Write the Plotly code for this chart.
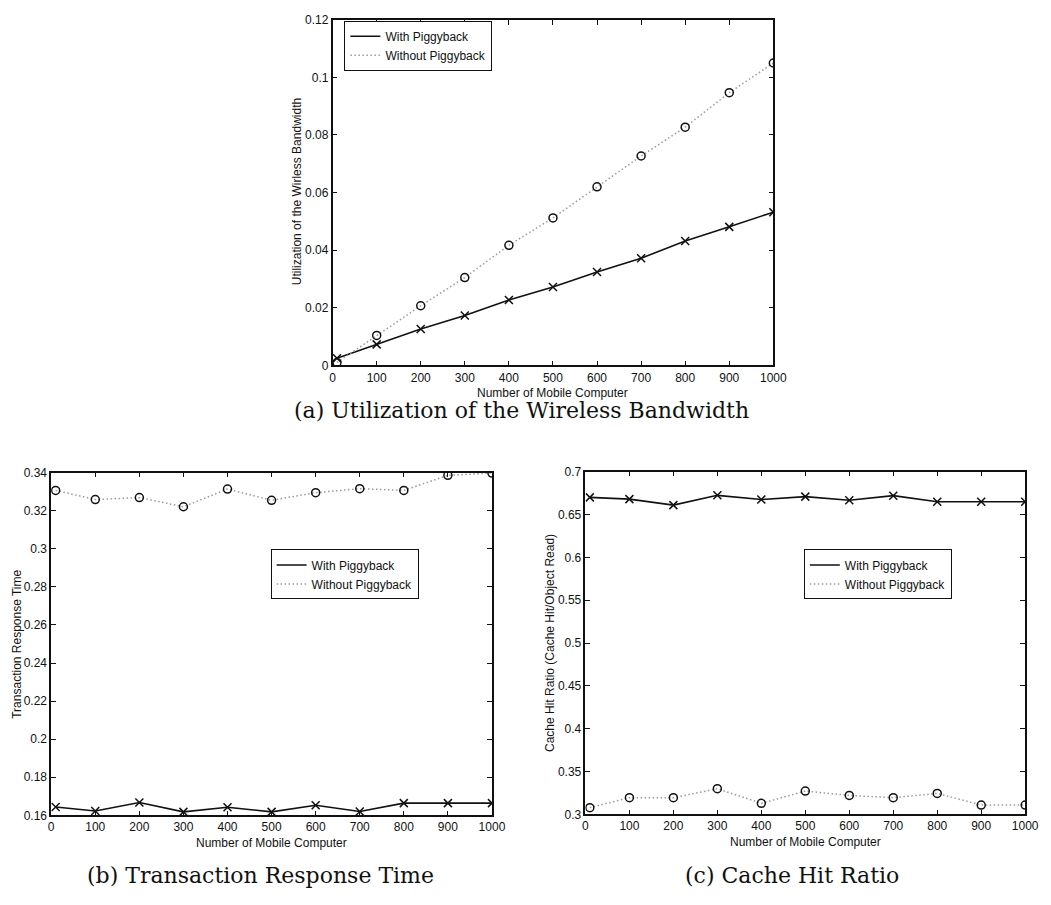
import plotly.graph_objects as go

W, H = 1051, 905

# Shared x values: number of mobile computers
mobile_counts = [10, 100, 200, 300, 400, 500, 600, 700, 800, 900, 1000]
x_ticks = [0, 100, 200, 300, 400, 500, 600, 700, 800, 900, 1000]

# (a) Utilization of the wireless bandwidth
bw_with = [0.0025, 0.0073, 0.0126, 0.0173, 0.0227, 0.0272, 0.0324, 0.0372, 0.0432, 0.0481, 0.0532]
bw_without = [0.001, 0.0104, 0.0207, 0.0305, 0.0417, 0.0512, 0.062, 0.0727, 0.0827, 0.0947, 0.105]

# (b) Transaction response time
rt_with = [0.1644, 0.1623, 0.1667, 0.1618, 0.1642, 0.1618, 0.1653, 0.162, 0.1664, 0.1664, 0.1664]
rt_without = [0.3307, 0.3259, 0.3269, 0.3221, 0.3314, 0.3255, 0.3295, 0.3316, 0.3307, 0.3386, 0.3398]

# (c) Cache hit ratio
hit_with = [0.670, 0.668, 0.661, 0.6724, 0.6675, 0.6709, 0.6667, 0.672, 0.665, 0.665, 0.665]
hit_without = [0.3078, 0.3194, 0.3194, 0.3299, 0.3128, 0.3271, 0.3221, 0.3194, 0.3244, 0.3108, 0.3108]

SANS = "Liberation Sans, Arial, sans-serif"
SERIF = "DejaVu Serif, serif"
INK = "#111111"
DOT = "#9a9a9a"


def px_x(p):
    return p / W


def px_y(p):
    return 1 - p / H


# Plot-area boxes in pixels: (left, top, right, bottom)
panels = {
    "a": dict(box=(335, 13, 783, 364), yr=[0, 0.12], dt=0.02,
              data=(bw_with, bw_without), legend="legend",
              lbox=(347, 14)),
    "b": dict(box=(49, 473, 497, 821), yr=[0.16, 0.34], dt=0.02,
              data=(rt_with, rt_without), legend="legend2",
              lbox=(272, 551)),
    "c": dict(box=(592, 472, 1039, 820), yr=[0.3, 0.7], dt=0.05,
              data=(hit_with, hit_without), legend="legend3",
              lbox=(814, 551)),
}

fig = go.Figure()
layout = dict(
    width=W, height=H,
    margin=dict(l=0, r=0, t=0, b=0),
    paper_bgcolor="white", plot_bgcolor="white",
    font=dict(family=SANS, size=12, color=INK),
    showlegend=True,
)

axis_common = dict(
    showline=True, linecolor=INK, linewidth=1.5, mirror="ticks",
    ticks="inside", ticklen=5, tickwidth=1, tickcolor=INK,
    showgrid=False, zeroline=False,
    tickfont=dict(family=SANS, size=12, color=INK),
)

annotations = []
for i, (key, p) in enumerate(panels.items()):
    n = "" if i == 0 else str(i + 1)
    xa, ya = "x" + n, "y" + n
    l, t, r, b = p["box"]
    layout["xaxis" + n] = dict(axis_common, domain=[px_x(l), px_x(r)], range=[0, 1000],
                               tickvals=x_ticks, anchor=ya)
    layout["yaxis" + n] = dict(axis_common, domain=[px_y(b), px_y(t)], range=p["yr"],
                               dtick=p["dt"], tick0=0, anchor=xa)
    lx, ly = p["lbox"]
    layout[p["legend"]] = dict(
        x=px_x(lx), y=px_y(ly), xanchor="left", yanchor="top",
        xref="paper", yref="paper",
        bgcolor="white", bordercolor=INK, borderwidth=1,
        font=dict(family=SANS, size=12, color=INK),
        tracegroupgap=0, itemwidth=30,
    )
    with_vals, without_vals = p["data"]
    # Solid line with x markers
    fig.add_trace(go.Scatter(x=mobile_counts, y=with_vals, mode="lines",
                             line=dict(color=INK, width=1.6), name="With Piggyback",
                             xaxis=xa, yaxis=ya, legend=p["legend"]))
    # Fine dotted gray line with open circles
    fig.add_trace(go.Scatter(x=mobile_counts, y=without_vals, mode="lines",
                             line=dict(color=DOT, width=1.5, dash="1.5px,2.5px"),
                             name="Without Piggyback",
                             xaxis=xa, yaxis=ya, legend=p["legend"]))
    fig.add_trace(go.Scatter(x=mobile_counts, y=with_vals, mode="markers",
                             marker=dict(symbol="x-thin-open", size=8, color=INK,
                                         line=dict(color=INK, width=1.5)),
                             showlegend=False, xaxis=xa, yaxis=ya))
    fig.add_trace(go.Scatter(x=mobile_counts, y=without_vals, mode="markers",
                             marker=dict(symbol="circle-open", size=8, color=INK,
                                         line=dict(color=INK, width=1.5)),
                             showlegend=False, xaxis=xa, yaxis=ya))
    # x-axis title
    annotations.append(dict(text="Number of Mobile Computer", x=px_x((l + r) / 2), y=px_y(b + 28),
                            xref="paper", yref="paper", showarrow=False,
                            font=dict(family=SANS, size=12, color=INK),
                            xanchor="center", yanchor="middle"))

y_titles = [
    ("Utilization of the Wirless Bandwidth", 299, 188),
    ("Transaction Response Time", 14, 647),
    ("Cache Hit Ratio (Cache Hit/Object Read)", 556, 646),
]
for text, x, y in y_titles:
    annotations.append(dict(text=text, x=px_x(x), y=px_y(y), xref="paper", yref="paper",
                            showarrow=False, textangle=-90,
                            font=dict(family=SANS, size=12, color=INK),
                            xanchor="center", yanchor="middle"))

captions = [
    ("(a) Utilization of the Wireless Bandwidth", 527, 410),
    ("(b) Transaction Response Time", 262, 882),
    ("(c) Cache Hit Ratio", 802, 882),
]
for text, x, y in captions:
    annotations.append(dict(text=text, x=px_x(x), y=px_y(y), xref="paper", yref="paper",
                            showarrow=False, font=dict(family=SERIF, size=22, color=INK),
                            xanchor="center", yanchor="middle"))

layout["annotations"] = annotations
fig.update_layout(**layout)
fig.write_html("out.html")
